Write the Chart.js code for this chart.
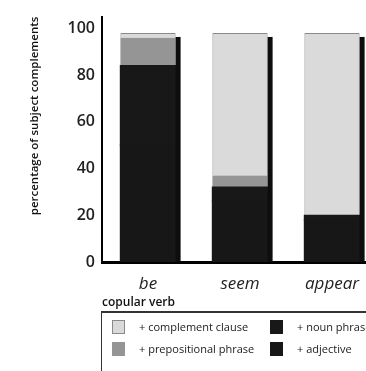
<!DOCTYPE html>
<html>
<head>
<meta charset="utf-8">
<script src="https://cdn.jsdelivr.net/npm/chart.js@4/dist/chart.umd.min.js"></script>
<style>
  html, body { margin: 0; padding: 0; background: #fff; width: 366px; height: 371px; overflow: hidden; }
  #wrap { position: relative; width: 390px; height: 371px; }
  canvas { position: absolute; left: 0; top: 0; }
  #legend { position: absolute; left: 101px; top: 311px; width: 300px; height: 80px;
            border: 1.5px solid #333; border-top-width: 2px; box-sizing: border-box; font-family: "Open Sans", sans-serif;
            font-size: 11px; color: #1a1a1a; }
  .item { position: absolute; display: flex; align-items: center; height: 15px; }
  .sw { width: 13px; height: 14px; box-sizing: border-box; margin-right: 14px; }
</style>
</head>
<body>
<div id="wrap">
  <canvas id="c" width="390" height="371"></canvas>
  <div id="legend"></div>
</div>
<script>
// ---- data ----
const categories = ['be', 'seem', 'appear'];
const adjective = [50, 26, 18];
const nounPhrase = [34, 6, 2];
const prepositionalPhrase = [12, 5, 0];
const complementClause = [2, 61, 78];
const yTicks = [0, 20, 40, 60, 80, 100];
const seriesNames = ['+ adjective', '+ noun phrase', '+ prepositional phrase', '+ complement clause'];

const colors = {
  adjective: '#171717',
  noun: '#181818',
  prep: '#959595',
  comp: '#dadada'
};

const shadowPlugin = {
  id: 'shadow',
  afterDatasetsDraw(chart) {
    const ctx = chart.ctx;
    const topMeta = chart.getDatasetMeta(chart.data.datasets.length - 1);
    const baseMeta = chart.getDatasetMeta(0);
    ctx.save();
    ctx.fillStyle = '#0d0d0d';
    topMeta.data.forEach((bar, i) => {
      const p = bar.getProps(['x', 'y', 'width', 'base'], true);
      const bottom = baseMeta.data[i].getProps(['base'], true).base;
      ctx.fillRect(p.x + p.width / 2, p.y + 4, 5, bottom - p.y - 4);
    });
    ctx.restore();
  }
};

const chart = new Chart(document.getElementById('c'), {
  type: 'bar',
  data: {
    labels: categories,
    datasets: [
      { label: seriesNames[0], data: adjective, backgroundColor: colors.adjective, borderColor: colors.adjective, borderWidth: 0, inflateAmount: 0.6 },
      { label: seriesNames[1], data: nounPhrase, backgroundColor: colors.noun, borderWidth: 0, inflateAmount: 0.6 },
      { label: seriesNames[2], data: prepositionalPhrase, backgroundColor: colors.prep, borderWidth: 0 },
      { label: seriesNames[3], data: complementClause, backgroundColor: colors.comp, borderColor: '#8a8a8a', borderWidth: 1 }
    ]
  },
  options: {
    responsive: false,
    animation: false,
    layout: { padding: { top: 13, right: 12, bottom: 61, left: 0 } },
    datasets: { bar: { categoryPercentage: 0.6, barPercentage: 1 } },
    plugins: { legend: { display: false }, tooltip: { enabled: false } },
    scales: {
      x: {
        stacked: true,
        grid: { display: false, drawTicks: false },
        border: { display: true, color: '#000', width: 3 },
        ticks: { padding: 12, color: '#222', font: { family: 'Open Sans', size: 17, style: 'italic' } },
        title: { display: true, text: 'copular verb', align: 'start', color: '#111',
                 font: { family: 'Open Sans', size: 12, weight: '600' }, padding: { top: 0, bottom: 0 } },
        afterFit(s) { s.height = 48; }
      },
      y: {
        stacked: true,
        min: 0, max: 105,
        grid: { display: false, drawTicks: false },
        border: { display: true, color: '#000', width: 2 },
        afterBuildTicks(s) { s.ticks = yTicks.map(v => ({ value: v })); },
        ticks: { padding: 7, color: '#222', font: { family: 'Open Sans', size: 16, weight: '600' } },
        title: { display: true, text: 'percentage of subject complements', align: 'end', color: '#111',
                 font: { family: 'Open Sans', size: 11.5, weight: '600' }, padding: { top: 28, bottom: 0 } },
        afterFit(s) { s.width = 102; }
      }
    }
  },
  plugins: [shadowPlugin]
});

// ---- HTML legend ----
const legendItems = [
  { name: seriesNames[3], color: colors.comp, border: '#8a8a8a', left: 10, top: 6 },
  { name: seriesNames[2], color: colors.prep, border: colors.prep, left: 10, top: 28 },
  { name: seriesNames[1], color: colors.noun, border: colors.noun, left: 168, top: 6 },
  { name: seriesNames[0], color: colors.adjective, border: colors.adjective, left: 168, top: 28 }
];
const lg = document.getElementById('legend');
legendItems.forEach(it => {
  const d = document.createElement('div');
  d.className = 'item';
  d.style.left = it.left + 'px';
  d.style.top = it.top + 'px';
  const sw = document.createElement('span');
  sw.className = 'sw';
  sw.style.background = it.color;
  sw.style.border = '1px solid ' + it.border;
  const t = document.createElement('span');
  t.textContent = it.name;
  d.appendChild(sw); d.appendChild(t);
  lg.appendChild(d);
});
</script>
</body>
</html>
